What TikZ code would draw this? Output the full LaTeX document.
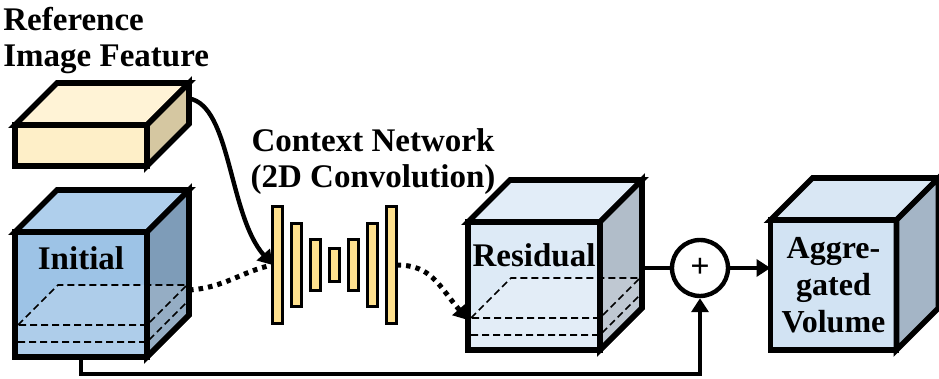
\documentclass[tikz,border=0pt]{standalone}
\usepackage{fontspec}
\setmainfont{Liberation Serif}
\usetikzlibrary{arrows.meta, positioning, calc}
\definecolor{FeatFront}{HTML}{FEEFC8}
\definecolor{FeatTop}{HTML}{FFF3D6}
\definecolor{FeatSide}{HTML}{D5C7A1}
\definecolor{InitFront}{HTML}{9DC3E6}
\definecolor{InitTop}{HTML}{AFCFEC}
\definecolor{InitSide}{HTML}{7E9CB8}
\definecolor{ResFront}{HTML}{DDEAF6}
\definecolor{ResTop}{HTML}{E2EDF8}
\definecolor{ResSide}{HTML}{B1BDC9}
\definecolor{AggFront}{HTML}{D2E3F3}
\definecolor{AggTop}{HTML}{D9E7F4}
\definecolor{AggSide}{HTML}{A4B5C6}
\definecolor{BarYellow}{HTML}{FFE18E}

% top and side face of a cube, hung on its front node
\newcommand{\cubeback}[3]{%
  \draw[cubeline, fill=#2] (#1.north west) -- ($(#1.north west)+(42,-42)$) -- ($(#1.north east)+(42,-42)$) -- (#1.north east) -- cycle;
  \draw[cubeline, fill=#3] (#1.north east) -- ($(#1.north east)+(42,-42)$) -- ($(#1.south east)+(42,-42)$) -- (#1.south east) -- cycle;
}
% see-through slab in the lower part of a cube
\newcommand{\cubeslab}[1]{%
  \fill[white, fill opacity=0.18] (#1.south west) -- ($(#1.south west)+(3,-32)$) -- ($(#1.south west)+(43,-72)$) -- ($(#1.south east)+(40,-72)$) -- ($(#1.south east)+(42,-42)$) -- (#1.south east) -- cycle;
  \draw[hidden] ($(#1.south west)+(3,-32)$) -- ($(#1.south west)+(43,-72)$) -- ($(#1.south east)+(40,-72)$) -- ($(#1.south east)+(0,-32)$) -- cycle;
  \draw[hidden] ($(#1.south west)+(3,-15)$) -- ($(#1.south east)+(0,-15)$) -- ($(#1.south east)+(40,-55)$);
  \draw[cubeline] (#1.south west) rectangle (#1.north east);
  \draw[cubeline] (#1.south east) -- ($(#1.south east)+(42,-42)$) -- ($(#1.north east)+(42,-42)$);
}

\begin{document}
\begin{tikzpicture}[
    x=0.5pt, y=-0.5pt,
    cubefront/.style={rectangle, draw, line width=2.8pt, outer sep=0pt, inner sep=0pt, align=center, font=\bfseries\fontsize{16}{18.5}\selectfont},
    cubeline/.style={draw, line width=2.8pt},
    hidden/.style={line width=0.8pt, dash pattern=on 3.5pt off 2pt},
    cubetext/.style={font=\bfseries\fontsize{16.5}{18.5}\selectfont, inner sep=0pt},
    title/.style={font=\bfseries\fontsize{16.5}{18}\selectfont, inner sep=0pt, align=#1},
    convbar/.style={rectangle, draw, fill=BarYellow, line width=1.7pt, minimum width=5pt, outer sep=0pt, inner sep=0pt},
    flow/.style={line width=2.2pt, -{Triangle[length=7pt,width=8.5pt]}},
    dotflow/.style={line width=2.5pt, dash pattern=on 2.3pt off 2.5pt},
    sumnode/.style={circle, draw, fill=white, line width=2.2pt, minimum size=28pt, inner sep=0pt, font=\bfseries\fontsize{17}{17}\selectfont}
]
    \useasboundingbox (0,0) rectangle (939,379);

    % titles
    \node[title=left, anchor=north west] (reftitle) at (3,7) {Reference\\Image Feature};
    \node[title=center] (ctxtitle) at (373,162) {Context Network\\(2D Convolution)};

    % reference feature box
    \node[cubefront, fill=FeatFront, minimum width=66pt, minimum height=20.5pt] (feat) at (81,145.5) {};
    \cubeback{feat}{FeatTop}{FeatSide}

    % initial volume
    \node[cubefront, fill=InitFront, minimum width=66pt, minimum height=62.5pt] (init) at (81,294.5) {};
    \cubeback{init}{InitTop}{InitSide}
    \cubeslab{init}
    \node[cubetext, anchor=base] (initlabel) at ($(init.north)+(0,38)$) {Initial};

    % context network
    \node[convbar, minimum height=58.5pt] (bar1) at (277.5,265) {};
    \node[convbar, minimum height=41.5pt, right=4.5pt of bar1] (bar2) {};
    \node[convbar, minimum height=25.5pt, right=4.5pt of bar2] (bar3) {};
    \node[convbar, minimum height=16.5pt, right=4.5pt of bar3] (bar4) {};
    \node[convbar, minimum height=25.5pt, right=4.5pt of bar4] (bar5) {};
    \node[convbar, minimum height=41.5pt, right=4.5pt of bar5] (bar6) {};
    \node[convbar, minimum height=58.5pt, right=4.5pt of bar6] (bar7) {};

    % residual volume
    \node[cubefront, fill=ResFront, minimum width=66pt, minimum height=64pt] (res) at (534,286) {};
    \cubeback{res}{ResTop}{ResSide}
    \cubeslab{res}
    \node[cubetext, anchor=base] (reslabel) at ($(res.north)+(0,45)$) {Residual};

    % aggregated volume
    \node[cubefront, fill=AggFront, minimum width=63pt, minimum height=65pt] (agg) at (833.5,285) {Aggre-\\gated\\Volume};
    \cubeback{agg}{AggTop}{AggSide}

    % sum
    \node[sumnode] (plus) at (700,268) {+};

    % connectors
    \coordinate (featout) at ($(feat.east)+(42,-47)$);
    \coordinate (initout) at ($(init.south east)+(42,-67)$);
    \coordinate (resin) at ($(res.south west)+(0,-30)$);
    \coordinate (resout) at ($(res.south east)+(42,-82)$);

    \draw[dotflow] (initout) .. controls +(35,-2) and +(-30,6) .. (bar1.west);
    \draw[flow] (featout) .. controls +(42,7) and +(-44,-50) .. (bar1.west);
    \draw[dotflow, -{Triangle[length=7pt,width=8.5pt]}] (bar7.east) .. controls +(35,0) and +(-30,-35) .. (resin);
    \draw[line width=2.2pt] (resout) -- (plus.west);
    \draw[flow] (plus.east) -- (plus.east -| agg.west);
    \draw[flow] (init.south) -- ++(0,17) -| (plus.south);

\end{tikzpicture}
\end{document}
